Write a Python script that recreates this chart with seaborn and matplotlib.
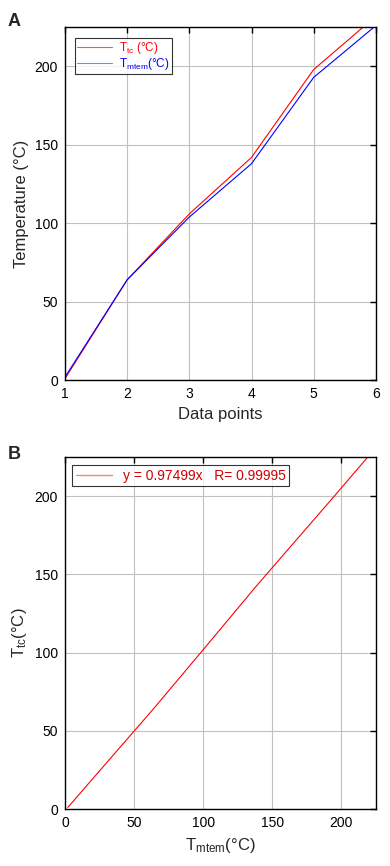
import numpy as np
import pandas as pd
import seaborn as sns
import matplotlib.pyplot as plt

# values
points = [1, 2, 3, 4, 5, 6]
t_tc = [1, 64, 106, 142, 198, 232]
t_mtem = [2, 64, 104, 138, 193, 226]

fit_label = "y = 0.97499x   R= 0.99995"

sns.set_style("white")
plt.rcParams['font.family'] = ['Liberation Sans', 'DejaVu Sans']
plt.rcParams['mathtext.fontset'] = 'custom'
plt.rcParams['mathtext.rm'] = 'Liberation Sans'
plt.rcParams['mathtext.it'] = 'Liberation Sans'

df = pd.DataFrame({"point": points, "tc": t_tc, "mtem": t_mtem})

fig = plt.figure(figsize=(3.9, 8.66), dpi=100)
ax1 = fig.add_axes([0.1667, 0.561, 0.797, 0.4076])
ax2 = fig.add_axes([0.1667, 0.0658, 0.797, 0.4065])

lab_tc = r"T$_{\rm tc}$ (°C)"
lab_mtem = r"T$_{\rm mtem}$(°C)"

# panel A
sns.lineplot(data=df, x="point", y="tc", ax=ax1, color="red", lw=0.8, label=lab_tc)
sns.lineplot(data=df, x="point", y="mtem", ax=ax1, color="blue", lw=0.8, label=lab_mtem)
ax1.set_xlim(1, 6)
ax1.set_ylim(0, 225)
ax1.set_xticks(points)
ax1.set_yticks([0, 50, 100, 150, 200])
ax1.set_xlabel("Data points", fontsize=12)
ax1.set_ylabel("Temperature (°C)", fontsize=12)
leg1 = ax1.legend(loc="upper left", bbox_to_anchor=(0.025, 0.975), fontsize=8.5,
                  frameon=True, fancybox=False, edgecolor="black",
                  handlelength=3.0, borderpad=0.15, labelspacing=0.0,
                  handletextpad=0.6, borderaxespad=0.2)
leg1.get_frame().set_linewidth(0.8)
for txt, h, c, hc in zip(leg1.get_texts(), leg1.legend_handles,
                         ["red", "blue"], ["#ff5050", "#8080ff"]):
    txt.set_color(c)
    h.set_color(hc)

# panel B
sns.lineplot(data=df, x="mtem", y="tc", ax=ax2, color="red", lw=0.8, sort=False,
             label=fit_label)
ax2.set_xlim(0, 225)
ax2.set_ylim(0, 225)
ax2.set_xticks([0, 50, 100, 150, 200])
ax2.set_yticks([0, 50, 100, 150, 200])
ax2.set_xlabel(r"T$_{\rm mtem}$(°C)", fontsize=12)
ax2.set_ylabel(r"T$_{\rm tc}$(°C)", fontsize=12)
leg2 = ax2.legend(loc="upper left", bbox_to_anchor=(0.015, 0.985), fontsize=10,
                  frameon=True, fancybox=False, edgecolor="black",
                  handlelength=2.6, borderpad=0.25, borderaxespad=0.2)
leg2.get_frame().set_linewidth(0.8)
leg2.legend_handles[0].set_color("#f08888")
leg2.legend_handles[0].set_linewidth(1.0)
leg2.get_texts()[0].set_color("#d00000")

for ax in (ax1, ax2):
    ax.grid(True, color="#c0c0c0", lw=0.8)
    ax.tick_params(direction="in", top=True, right=True, labelsize=10,
                   length=4, width=1, colors="black", pad=5)
    for s in ax.spines.values():
        s.set_color("black")
        s.set_linewidth(1)

fig.text(0.02, 0.985, "A", fontsize=13, fontweight="bold", va="top")
fig.text(0.02, 0.485, "B", fontsize=13, fontweight="bold", va="top")

fig.savefig("out.png", dpi=100)
